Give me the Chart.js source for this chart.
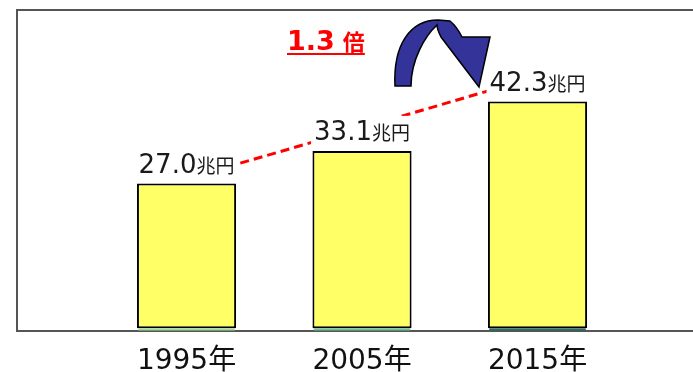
<!DOCTYPE html>
<html>
<head>
<meta charset="utf-8">
<script src="https://cdn.jsdelivr.net/npm/chart.js@4"></script>
<style>
html, body { margin: 0; padding: 0; background: #fff; overflow: hidden; }
</style>
</head>
<body>
<canvas id="chart" width="693" height="378"></canvas>
<script>
// データ
const years = [1995, 2005, 2015];
const yearLabels = ['1995年', '2005年', '2015年'];
const amounts = [27.0, 33.1, 42.3];          // 兆円
const baseStrip = [0.6, 0.6, 0.6];           // 棒の下の細い帯
const stripColors = ['#a3d69c', '#72bf8f', '#2f6b5c'];
const trendLine = [28.5, 38.0, 47.6];        // 赤い破線
const ratioText = '1.3';
const ratioUnit = '倍';
const unitText = '兆円';

// 棒の上の数値ラベル（白地で破線を隠す）
const valueLabels = {
    id: 'valueLabels',
    afterDatasetsDraw(chart) {
        const ctx = chart.ctx;
        const meta = chart.getDatasetMeta(1);
        meta.data.forEach((bar, i) => {
            const num = amounts[i].toFixed(1);
            ctx.save();
            ctx.font = '26px "DejaVu Sans"';
            const w1 = ctx.measureText(num).width;
            ctx.font = '19px "Noto Sans CJK JP"';
            const w2 = ctx.measureText(unitText).width;
            const x0 = bar.x - (w1 + w2) / 2;
            const base = bar.y - 11;
            ctx.fillStyle = '#fff';
            ctx.fillRect(x0 - 3, base - 24, w1 + w2 + 6, 34);
            ctx.fillStyle = '#1a1a1a';
            ctx.textBaseline = 'alphabetic';
            ctx.font = '26px "DejaVu Sans"';
            ctx.fillText(num, x0, base);
            ctx.font = '19px "Noto Sans CJK JP"';
            ctx.fillText(unitText, x0 + w1, base);
            ctx.restore();
        });
    }
};

// 「1.3倍」と曲がった矢印
const annotations = {
    id: 'annotations',
    afterDraw(chart) {
        const ctx = chart.ctx;
        ctx.save();
        // 1.3 倍
        ctx.fillStyle = '#ff0000';
        ctx.font = 'bold 27px "DejaVu Sans"';
        const w1 = ctx.measureText(ratioText).width;
        ctx.fillText(ratioText, 287, 50);
        ctx.font = 'bold 22px "Noto Sans CJK JP"';
        const w2 = ctx.measureText(ratioUnit).width;
        ctx.fillText(ratioUnit, 287 + w1 + 8, 50);
        ctx.fillRect(287, 53, w1 + 8 + w2, 2);

        // 矢印
        ctx.beginPath();
        ctx.moveTo(395, 86);
        ctx.bezierCurveTo(393, 45, 410, 20, 438, 20);
        ctx.lineTo(450, 21);
        ctx.bezierCurveTo(455, 25, 459, 31, 462, 37);
        ctx.lineTo(490, 37);
        ctx.lineTo(479, 87);
        ctx.lineTo(441, 37);
        ctx.bezierCurveTo(438, 31, 437, 27, 437, 25);
        ctx.bezierCurveTo(425, 36, 411, 60, 411, 86);
        ctx.closePath();
        ctx.fillStyle = '#333399';
        ctx.fill();
        ctx.lineWidth = 1.5;
        ctx.strokeStyle = '#000';
        ctx.stroke();
        ctx.restore();
    }
};

const ctx = document.getElementById('chart').getContext('2d');
new Chart(ctx, {
    type: 'bar',
    data: {
        datasets: [{
            label: 'base',
            data: years.map((x, i) => ({ x: x, y: baseStrip[i] })),
            backgroundColor: stripColors,
            borderWidth: 0,
            stack: 'bars',
            order: 0,
            categoryPercentage: 1,
            barPercentage: 0.55
        }, {
            label: '市場規模',
            data: years.map((x, i) => ({ x: x, y: amounts[i] })),
            backgroundColor: '#ffff66',
            borderColor: '#000',
            borderWidth: 2,
            borderSkipped: false,
            stack: 'bars',
            order: 1,
            categoryPercentage: 1,
            barPercentage: 0.565
        }, {
            type: 'line',
            label: 'trend',
            data: years.map((x, i) => ({ x: x, y: trendLine[i] })),
            borderColor: '#ff0000',
            borderWidth: 3,
            borderDash: [9, 5],
            pointRadius: 0,
            fill: false,
            stack: 'trend',
            order: 2
        }]
    },
    options: {
        responsive: false,
        animation: false,
        layout: { padding: { top: 10, left: 17, right: 0, bottom: -15 } },
        plugins: {
            legend: { display: false },
            tooltip: { enabled: false }
        },
        scales: {
            x: {
                type: 'linear',
                offset: false,
                min: 1985.34,
                max: 2023.86,
                stacked: true,
                grid: { display: false, drawTicks: false, offset: false },
                border: { display: true, color: '#555', width: 2 },
                afterBuildTicks: scale => {
                    scale.ticks = years.map(v => ({ value: v }));
                },
                ticks: {
                    autoSkip: false,
                    maxRotation: 0,
                    padding: 14,
                    color: '#111',
                    font: { size: 28, family: '"DejaVu Sans", "Noto Sans CJK JP"' },
                    callback: value => yearLabels[years.indexOf(value)]
                }
            },
            y: {
                min: 0,
                max: 60,
                stacked: true,
                ticks: { display: false, stepSize: 10 },
                grid: {
                    drawTicks: false,
                    lineWidth: 2,
                    color: c => c.tick && c.tick.value === 60 ? '#555' : 'transparent'
                },
                border: { display: true, color: '#555', width: 2 }
            }
        }
    },
    plugins: [valueLabels, annotations]
});
</script>
</body>
</html>
